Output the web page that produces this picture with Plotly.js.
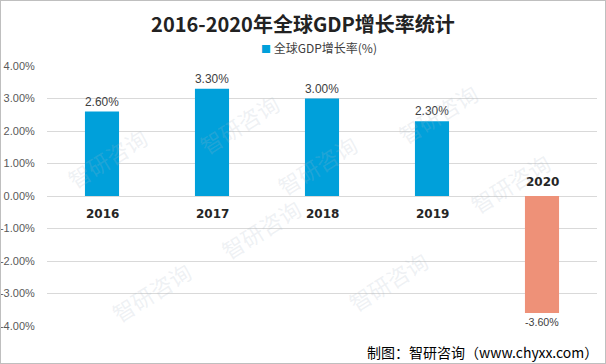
<!DOCTYPE html>
<html><head><meta charset="utf-8">
<script src="https://cdn.plot.ly/plotly-3.0.1.min.js"></script>
<style>
html,body{margin:0;padding:0;background:#fff;}
#wrap{width:606px;height:364px;box-sizing:border-box;border:1px solid #BFBFBF;overflow:hidden;}
#chart{width:604px;height:362px;}
</style></head>
<body><div id="wrap"><div id="chart"></div></div>
<script>
const categories = ['2016','2017','2018','2019','2020'];
const growthRate = [2.6, 3.3, 3.0, 2.3, -3.6];
const barColors = ['#00A0DA','#00A0DA','#00A0DA','#00A0DA','#EE9178'];
const yTicks = [-4,-3,-2,-1,0,1,2,3,4];
const yTickText = ['-4.00%','-3.00%','-2.00%','-1.00%','0.00%','1.00%','2.00%','3.00%','4.00%'];
const seriesName = '全球GDP增长率(%)';
const titleText = '2016-2020年全球GDP增长率统计';
const sourceText = '制图：智研咨询（www.chyxx.com）';

const trace = {
  type:'bar', x:categories, y:growthRate, name:seriesName,
  marker:{color:barColors}, width:0.31,
  text:growthRate.map(v=>v.toFixed(2)+'%'), textposition:'outside',
  textfont:{family:'Liberation Sans, Arial', size:12, color:'#404040'},
  cliponaxis:false, showlegend:false, hoverinfo:'none'
};

const annotations = categories.map((c,i)=>({
  x:c, y:0, xref:'x', yref:'y', text:'<b>'+c+'</b>', showarrow:false,
  yanchor: growthRate[i]>=0?'top':'bottom', yshift: growthRate[i]>=0?-9:5,
  font:{family:'DejaVu Sans, Arial', size:12, color:'#262626'}
}));
annotations.push({
  xref:'paper', yref:'paper', x:1.0055, y:-0.1, xanchor:'right', yanchor:'middle',
  text:sourceText, showarrow:false,
  font:{family:'Noto Sans CJK SC', size:14, color:'#000'}
});
// legend drawn as annotation
annotations.push({
  xref:'paper', yref:'paper', x:0.385, y:1.07, xanchor:'left', yanchor:'middle', showarrow:false,
  text:'<span style="color:'+barColors[0]+';font-size:10px">■</span> '+seriesName,
  font:{family:'Noto Sans CJK SC', size:12, color:'#404040'}
});
// faint watermarks
const wm = [[0.02,0.80],[0.26,0.93],[0.49,0.62],[0.93,0.55],[0.80,0.97],[0.10,-0.02],[0.62,0.02],[0.30,0.22]];
wm.forEach(p=>annotations.push({xref:'paper',yref:'paper',x:p[0],y:p[1],text:'智研咨询',showarrow:false,textangle:-32,
  font:{family:'Noto Sans CJK SC',size:22,color:'rgba(170,185,200,0.2)'}}));

const layout = {
  width:604, height:362,
  margin:{l:46, r:8, t:65, b:37},
  paper_bgcolor:'#fff', plot_bgcolor:'#fff',
  title:{text:'<b>'+titleText+'</b>', x:0.5, xref:'container', xanchor:'center', y:0.934, yref:'container', yanchor:'middle',
    font:{family:'Noto Sans CJK SC', size:20, color:'#222'}},
  showlegend:false,
  xaxis:{showticklabels:false, showgrid:false, zeroline:false, showline:false, ticks:'', fixedrange:true},
  yaxis:{range:[-4,4], tickvals:yTicks, ticktext:yTickText, showgrid:true, gridcolor:'#D9D9D9', gridwidth:1,
    zeroline:true, zerolinecolor:'#D9D9D9', zerolinewidth:1, showline:false,
    ticks:'outside', ticklen:9, tickcolor:'rgba(0,0,0,0)',
    tickfont:{family:'Liberation Sans, Arial', size:11, color:'#595959'}},
  annotations:annotations
};
Plotly.newPlot('chart',[trace],layout,{displayModeBar:false, staticPlot:true});
</script></body></html>
